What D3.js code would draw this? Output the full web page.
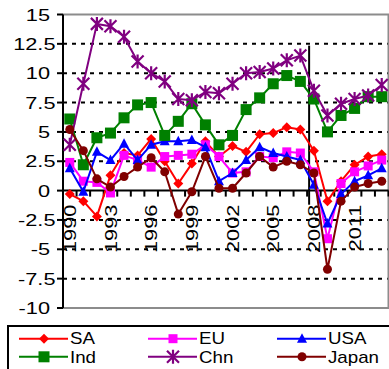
<!DOCTYPE html>
<html>
<head>
<meta charset="utf-8">
<script src="https://cdn.jsdelivr.net/npm/d3@7/dist/d3.min.js"></script>
<style>
  body { margin: 0; background: #fff; }
  svg { display: block; font-family: "Liberation Sans", Arial, sans-serif; }
</style>
</head>
<body>
<svg id="chart" width="389" height="369"></svg>
<script>
// Annual GDP growth (%), 1990-2013
const years = [1990,1991,1992,1993,1994,1995,1996,1997,1998,1999,2000,2001,
               2002,2003,2004,2005,2006,2007,2008,2009,2010,2011,2012,2013];
const yearLabels = [1990,1993,1996,1999,2002,2005,2008,2011];
const yTicks = [15,12.5,10,7.5,5,2.5,0,-2.5,-5,-7.5,-10];

const sa  = [-0.3,-0.9,-2.2,1.3,3.2,3.0,4.4,2.5,0.6,2.3,4.2,2.9,3.8,3.3,4.8,4.9,5.4,5.2,3.4,-0.9,0.8,2.2,2.9,3.1];
const eu  = [2.4,0.8,0.7,-0.2,3.0,2.6,2.0,2.9,3.0,3.1,3.9,2.9,1.5,1.6,2.9,2.8,3.3,3.2,1.6,-4.1,0.6,1.6,2.1,2.6];
const usa = [1.9,-0.1,3.3,2.6,4.0,2.6,3.9,4.2,4.2,4.3,3.7,0.8,1.5,2.6,3.7,3.2,2.9,2.6,0.5,-2.8,-0.3,0.8,1.3,1.9];
const ind = [6.1,2.2,4.5,4.9,6.2,7.3,7.5,4.7,5.9,7.4,5.6,3.9,4.7,6.9,7.9,9.1,9.8,9.3,7.8,5.0,6.4,7.0,8.0,8.0];
const chn = [3.9,9.1,14.2,14.0,13.1,11.0,10.0,9.3,7.8,7.7,8.4,8.3,9.1,10.0,10.1,10.4,11.1,11.5,8.5,6.4,7.4,7.8,8.1,9.0];
const jpn = [5.2,3.4,1.0,0.3,1.2,2.0,2.8,1.6,-2.0,-0.1,2.9,0.2,0.2,1.5,2.9,2.0,2.5,2.2,1.5,-6.7,-0.9,0.3,0.6,0.8];

const markerYear = 2008;   // year marked by the vertical rule

const series = [
  { name: "SA",    values: sa,  color: "#ff0000", marker: "diamond" },
  { name: "EU",    values: eu,  color: "#ff00ff", marker: "square" },
  { name: "USA",   values: usa, color: "#0000ff", marker: "triangle" },
  { name: "Ind",   values: ind, color: "#008000", marker: "bigsquare" },
  { name: "Chn",   values: chn, color: "#800080", marker: "star" },
  { name: "Japan", values: jpn, color: "#800000", marker: "circle" }
];

const svg = d3.select("#chart");
const plot = { left: 63, right: 388.5, top: 14.5, bottom: 308 };
const wide = 1.28;   // horizontal stretch of the axis lettering

const x = d3.scaleBand().domain(years).range([plot.left, plot.right]).padding(0);
const xc = yr => x(yr) + x.bandwidth() / 2;
const y = d3.scaleLinear().domain([-10, 15]).range([plot.bottom, plot.top]);

// horizontal grid: dashed inner lines
svg.append("g").selectAll("line")
  .data(yTicks.filter(v => v !== 15 && v !== -10 && v !== 0))
  .join("line")
  .attr("x1", plot.left).attr("x2", plot.right)
  .attr("y1", d => y(d)).attr("y2", d => y(d))
  .attr("stroke", "#000").attr("stroke-width", 2)
  .attr("stroke-dasharray", "4 5");

// plot area border (top, right, bottom)
svg.append("path")
  .attr("d", `M${plot.left},${y(15)}H${plot.right}V${y(-10)}H${plot.left}`)
  .attr("fill", "none").attr("stroke", "#8c8c8c").attr("stroke-width", 2);

// y axis
svg.append("line")
  .attr("x1", plot.left).attr("x2", plot.left)
  .attr("y1", y(15)).attr("y2", y(-10))
  .attr("stroke", "#000").attr("stroke-width", 2);
svg.append("g").selectAll("line").data(yTicks).join("line")
  .attr("x1", plot.left - 6).attr("x2", plot.left)
  .attr("y1", d => y(d)).attr("y2", d => y(d))
  .attr("stroke", "#000").attr("stroke-width", 2);
svg.append("g").selectAll("text").data(yTicks).join("text")
  .attr("transform", d => `translate(${Number.isInteger(d) ? 50 : 55.5},${y(d)}) scale(${wide},1)`)
  .attr("dy", "0.36em")
  .attr("text-anchor", "end")
  .attr("font-size", 17)
  .text(d => String(d));

// x axis at zero with tick marks on category boundaries
svg.append("line")
  .attr("x1", plot.left).attr("x2", plot.right)
  .attr("y1", y(0)).attr("y2", y(0))
  .attr("stroke", "#000").attr("stroke-width", 2);
svg.append("g").selectAll("line")
  .data(years.map(yr => x(yr)).concat([plot.right]))
  .join("line")
  .attr("x1", d => d).attr("x2", d => d)
  .attr("y1", y(0)).attr("y2", y(0) + 6)
  .attr("stroke", "#000").attr("stroke-width", 2);
svg.append("g").selectAll("text").data(yearLabels).join("text")
  .attr("transform", d => `translate(${xc(d)},${y(0) + 14}) rotate(-90) scale(${wide},1)`)
  .attr("text-anchor", "end")
  .attr("dy", "0.36em")
  .attr("font-size", 17)
  .text(d => d);

// vertical rule at the start of the marked year
const ruleX = x(markerYear) + 2;
svg.append("line")
  .attr("x1", ruleX).attr("x2", ruleX)
  .attr("y1", y(12.35)).attr("y2", y(-1.2))
  .attr("stroke", "#000").attr("stroke-width", 2);

// marker shapes
function drawMarker(g, type, color, cx, cy) {
  switch (type) {
    case "diamond":
      g.append("path").attr("d", `M${cx},${cy-5}L${cx+5},${cy}L${cx},${cy+5}L${cx-5},${cy}Z`)
        .attr("fill", color);
      break;
    case "square":
      g.append("rect").attr("x", cx-4.5).attr("y", cy-4.5).attr("width", 9).attr("height", 9)
        .attr("fill", color);
      break;
    case "bigsquare":
      g.append("rect").attr("x", cx-5.5).attr("y", cy-5.5).attr("width", 11).attr("height", 11)
        .attr("fill", color);
      break;
    case "triangle":
      g.append("path").attr("d", `M${cx},${cy-5.5}L${cx+5},${cy+4}L${cx-5},${cy+4}Z`)
        .attr("fill", color);
      break;
    case "circle":
      g.append("circle").attr("cx", cx).attr("cy", cy).attr("r", 4.5).attr("fill", color);
      break;
    case "star":
      g.append("path")
        .attr("d", `M${cx-6},${cy-6}L${cx+6},${cy+6}M${cx+6},${cy-6}L${cx-6},${cy+6}M${cx},${cy-7}L${cx},${cy+7}`)
        .attr("stroke", color).attr("stroke-width", 2.2).attr("fill", "none");
      break;
  }
}

const line = d3.line().x((d, i) => xc(years[i])).y(d => y(d));

series.forEach(s => {
  const g = svg.append("g");
  g.append("path").datum(s.values)
    .attr("d", line)
    .attr("fill", "none").attr("stroke", s.color).attr("stroke-width", 2)
    .attr("stroke-linejoin", "round");
  s.values.forEach((v, i) => drawMarker(g, s.marker, s.color, xc(years[i]), y(v)));
});

// legend
const legend = svg.append("g");
legend.append("rect")
  .attr("x", 8).attr("y", 326).attr("width", 400).attr("height", 60)
  .attr("fill", "#fff").attr("stroke", "#000").attr("stroke-width", 2);
const colX = [19, 148, 277];
const rowY = [338.7, 356.8];
series.forEach((s, i) => {
  const lx = colX[i % 3], ly = rowY[Math.floor(i / 3)];
  const g = legend.append("g");
  g.append("line").attr("x1", lx).attr("x2", lx + 49).attr("y1", ly).attr("y2", ly)
    .attr("stroke", s.color).attr("stroke-width", 2);
  drawMarker(g, s.marker, s.color, lx + 25, ly);
  g.append("text")
    .attr("transform", `translate(${lx + 51},${ly}) scale(1.17,1)`)
    .attr("dy", "0.36em")
    .attr("font-size", 16).text(s.name);
});
</script>
</body>
</html>
